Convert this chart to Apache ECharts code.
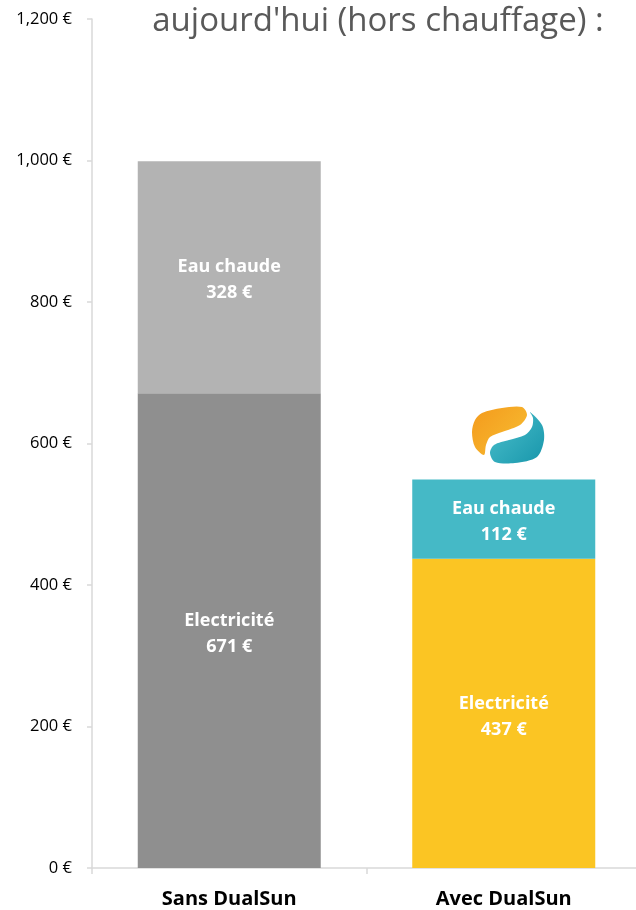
<!DOCTYPE html>
<html>
<head>
<meta charset="utf-8">
<script src="https://cdn.jsdelivr.net/npm/echarts@6/dist/echarts.min.js"></script>
<style>html,body{margin:0;padding:0;background:#fff}#c{width:636px;height:910px}</style>
</head>
<body>
<div id="c"></div>
<script>
const categories = ['Sans DualSun', 'Avec DualSun'];
const electricite = [671, 437];
const eauChaude = [328, 112];
const elecColors = ['#8f8f8f', '#fbc523'];
const eauColors = ['#b3b3b3', '#45b9c6'];
const yTicks = [0, 200, 400, 600, 800, 1000, 1200];
const titleText = "aujourd'hui (hors chauffage) :";

const FONT = 'Open Sans';
const chart = echarts.init(document.getElementById('c'));
const fmtEuro = v => v.toLocaleString('en-US') + ' €';

chart.setOption({
  animation: false,
  backgroundColor: '#ffffff',
  textStyle: { fontFamily: FONT },
  title: {
    text: titleText,
    left: 373, top: 0, textAlign: 'center',
    textStyle: { fontFamily: FONT, fontSize: 33, fontWeight: 'normal', color: '#595959' }
  },
  grid: { left: 92, top: 19, width: 549, height: 849, containLabel: false, outerBoundsMode: 'none' },
  xAxis: {
    type: 'category',
    data: categories,
    axisLine: { lineStyle: { color: '#d9d9d9', width: 1.5 } },
    axisTick: { show: true, length: 6, lineStyle: { color: '#d9d9d9', width: 1.5 } },
    axisLabel: { margin: 21, color: '#000', fontFamily: FONT, fontSize: 20, fontWeight: 'bold' }
  },
  yAxis: {
    type: 'value',
    min: yTicks[0], max: yTicks[yTicks.length - 1], interval: 200,
    splitLine: { show: false },
    axisLine: { show: true, lineStyle: { color: '#d9d9d9', width: 1.5 } },
    axisTick: { show: true, length: 5, lineStyle: { color: '#d9d9d9', width: 1.5 } },
    axisLabel: { margin: 20, color: '#000', fontFamily: FONT, fontSize: 16.5, formatter: fmtEuro }
  },
  series: [
    {
      name: 'Electricité', type: 'bar', stack: 'total', barWidth: 183,
      data: electricite.map((v, i) => ({ value: v, itemStyle: { color: elecColors[i] } })),
      label: {
        show: true, position: 'inside', offset: [0, 3], color: '#fff', fontFamily: FONT, fontSize: 18, fontWeight: 'bold',
        lineHeight: 26, formatter: p => p.seriesName + '\n' + p.value + ' €'
      }
    },
    {
      name: 'Eau chaude', type: 'bar', stack: 'total', barWidth: 183,
      data: eauChaude.map((v, i) => ({ value: v, itemStyle: { color: eauColors[i] } })),
      label: {
        show: true, position: 'inside', offset: [0, 3], color: '#fff', fontFamily: FONT, fontSize: 18, fontWeight: 'bold',
        lineHeight: 26, formatter: p => p.seriesName + '\n' + p.value + ' €'
      }
    }
  ],
  graphic: [
    {
      type: 'polygon', silent: true,
      shape: { smooth: 0.3, points: [[482,413],[502,408],[522,407],[527,415],[520,425],[502,432],[490,437],[486,445],[484,455],[475,447],[472,432],[475,420]] },
      style: { fill: new echarts.graphic.LinearGradient(0, 0, 1, 1, [{ offset: 0, color: '#f49a1c' }, { offset: 1, color: '#f7be33' }]) }
    },
    {
      type: 'polygon', silent: true,
      shape: { smooth: 0.3, points: [[530,412],[542,425],[544,440],[537,457],[515,463],[495,462],[490,453],[494,445],[509,440],[525,435],[532,427],[533,418]] },
      style: { fill: new echarts.graphic.LinearGradient(0, 0, 1, 1, [{ offset: 0, color: '#4cc0cc' }, { offset: 1, color: '#1896ab' }]) }
    }
  ]
});
</script>
</body>
</html>
